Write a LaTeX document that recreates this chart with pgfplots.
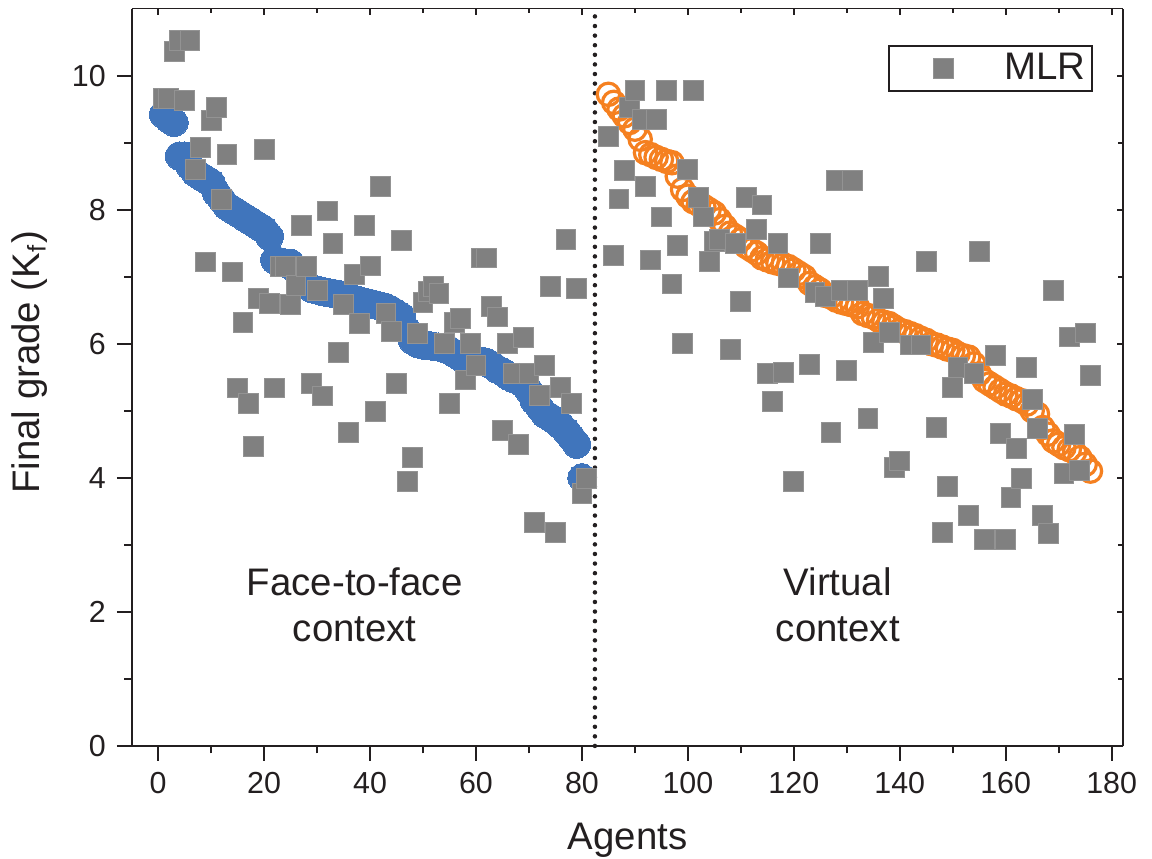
\documentclass[border=0pt]{standalone}
\usepackage{fontspec}
\setmainfont{Liberation Sans}
\usepackage{pgfplots}
\pgfplotsset{compat=1.18}
\definecolor{fblue}{RGB}{64,117,188}
\definecolor{vorange}{RGB}{245,128,32}
\definecolor{mlrgray}{RGB}{128,128,128}
\definecolor{axgray}{RGB}{35,31,32}
\begin{document}
\begin{tikzpicture}
\begin{axis}[name=ax, scale only axis, width=309.9pt, height=230.47pt,
  xmin=-5, xmax=182.2, ymin=0, ymax=11,
  axis x line*=bottom, axis y line*=left,
  axis line style={axgray, line width=0.6pt},
  xtick={0,20,...,180}, ytick={0,2,...,10},
  minor x tick num=1, minor y tick num=1,
  tick align=outside, major tick length=4.6pt, minor tick length=2.3pt,
  tick style={axgray, line width=0.6pt},
  ticklabel style={font=\fontsize{9.5}{11}\selectfont, text=axgray},
  /pgf/number format/assume math mode=true,
  xlabel={Agents}, ylabel={Final grade (K\textsubscript{f})},
  label style={font=\fontsize{12}{14}\selectfont, text=axgray},
  xlabel style={at={(axis description cs:0.5,-0.1276)}, anchor=center},
  ylabel style={at={(axis description cs:-0.1026,0.52)}, anchor=center},
  clip=false,
  legend style={at={(0.763,0.9505)}, anchor=north west, draw=axgray, line width=0.5pt,
    inner xsep=2pt, inner ysep=2.2pt, font=\fontsize{12}{14}\selectfont, text=axgray,
    nodes={inner sep=0pt}},
  legend image code/.code={\path[draw=none,fill=none] (0pt,-4pt) rectangle (34pt,4pt); \draw[#1] plot coordinates {(14.9pt,0pt)};},
]
% Face-to-face context (blue filled circles)
\addplot[only marks, mark=*, mark size=4.4pt, mark options={fill=fblue, draw=fblue, line width=0pt}, forget plot] coordinates {
(1,9.42)(2,9.35)(3,9.30)(4,8.80)(5,8.80)(6,8.65)(7,8.55)(8,8.50)(9,8.45)(10,8.40)
(11,8.25)(12,8.15)(13,8.05)(14,8.00)(15,7.95)(16,7.90)(17,7.85)(18,7.80)(19,7.75)(20,7.70)
(21,7.60)(22,7.25)(23,7.22)(24,7.20)(25,7.20)(26,7.10)(27,7.00)(28,6.88)(29,6.82)(30,6.80)
(31,6.78)(32,6.76)(33,6.75)(34,6.73)(35,6.70)(36,6.68)(37,6.66)(38,6.64)(39,6.62)(40,6.60)
(41,6.58)(42,6.56)(43,6.54)(44,6.50)(45,6.45)(46,6.40)(47,6.20)(48,6.05)(49,6.00)(50,5.98)
(51,5.97)(52,5.96)(53,5.95)(54,5.93)(55,5.90)(56,5.85)(57,5.80)(58,5.78)(59,5.76)(60,5.75)
(61,5.74)(62,5.72)(63,5.68)(64,5.62)(65,5.58)(66,5.52)(67,5.48)(68,5.45)(69,5.40)(70,5.30)
(71,5.15)(72,5.05)(73,4.95)(74,4.90)(75,4.85)(76,4.78)(77,4.70)(78,4.60)(79,4.50)(80,4.00)
};
% Virtual context (orange open circles)
\addplot[only marks, mark=o, mark size=3.5pt, mark options={draw=vorange, fill=white, line width=1pt}, forget plot] coordinates {
(85,9.72)(86,9.60)(87,9.50)(88,9.40)(89,9.30)(90,9.20)(91,9.05)(92,8.85)(93,8.82)(94,8.78)
(95,8.75)(96,8.72)(97,8.70)(98,8.50)(99,8.30)(100,8.20)(101,8.12)(102,8.08)(103,8.05)(104,8.00)
(105,7.95)(106,7.85)(107,7.75)(108,7.65)(109,7.60)(110,7.55)(111,7.45)(112,7.40)(113,7.35)(114,7.28)
(115,7.25)(116,7.22)(117,7.20)(118,7.18)(119,7.15)(120,7.10)(121,7.05)(122,7.00)(123,6.90)(124,6.85)
(125,6.80)(126,6.72)(127,6.70)(128,6.65)(129,6.62)(130,6.60)(131,6.58)(132,6.55)(133,6.45)(134,6.42)
(135,6.40)(136,6.35)(137,6.32)(138,6.30)(139,6.25)(140,6.20)(141,6.18)(142,6.15)(143,6.12)(144,6.08)
(145,6.05)(146,6.00)(147,5.98)(148,5.95)(149,5.92)(150,5.90)(151,5.85)(152,5.82)(153,5.80)(154,5.70)
(155,5.55)(156,5.45)(157,5.40)(158,5.35)(159,5.30)(160,5.25)(161,5.22)(162,5.18)(163,5.15)(164,5.10)
(165,5.00)(166,4.95)(167,4.75)(168,4.65)(169,4.55)(170,4.50)(171,4.45)(172,4.42)(173,4.38)(174,4.30)
(175,4.20)(176,4.10)
};
% MLR (grey squares)
\addplot[only marks, mark=square*, mark size=3.1pt, mark options={fill=mlrgray, draw=mlrgray!85!white, line width=0.3pt}] coordinates {
(1,9.66)(2,9.66)(3,10.36)(4,10.52)(5,9.63)(6,10.52)(7,8.60)(8,8.93)(9,7.22)(10,9.33)
(11,9.52)(12,8.15)(13,8.82)(14,7.07)(15,5.34)(16,6.32)(17,5.11)(18,4.47)(19,6.68)(20,8.90)
(21,6.60)(22,5.34)(23,7.15)(24,7.15)(25,6.58)(26,6.87)(27,7.76)(28,7.15)(29,5.41)(30,6.80)
(31,5.22)(32,7.98)(33,7.49)(34,5.87)(35,6.58)(36,4.68)(37,7.03)(38,6.30)(39,7.76)(40,7.16)
(41,4.99)(42,8.34)(43,6.45)(44,6.18)(45,5.41)(46,7.54)(47,3.95)(48,4.30)(49,6.15)(50,6.62)
(51,6.78)(52,6.85)(53,6.75)(54,6.00)(55,5.11)(56,6.32)(57,6.38)(58,5.46)(59,6.00)(60,5.68)
(61,7.28)(62,7.28)(63,6.55)(64,6.40)(65,4.71)(66,6.00)(67,5.56)(68,4.50)(69,6.09)(70,5.56)
(71,3.33)(72,5.23)(73,5.68)(74,6.85)(75,3.18)(76,5.35)(77,7.55)(78,5.11)(79,6.82)(80,3.77)
(80.8,3.99)
(85,9.09)(86,7.31)(87,8.16)(88,8.59)(89,9.52)(90,9.78)(91.5,9.34)(92,8.34)(93,7.25)(94,9.34)
(95,7.89)(96,9.78)(97,6.89)(98,7.46)(99,6.00)(100,8.60)(101,9.78)(102,8.18)(103,7.89)(104,7.23)
(105,7.52)(106,7.55)(108,5.92)(109,7.50)(110,6.63)(111,8.18)(113,7.71)(114,8.07)(115,5.56)(116,5.14)
(117,7.50)(118,5.57)(119,6.98)(120,3.95)(123,5.69)(124,6.77)(125,7.50)(126,6.70)(127,4.68)(128,8.43)
(129,6.80)(130,5.60)(131,8.43)(132,6.80)(134,4.89)(135,6.02)(136,7.00)(137,6.67)(138,6.17)(139,4.16)
(140,4.25)(142,5.98)(144,5.98)(145,7.23)(147,4.75)(148,3.18)(149,3.87)(150,5.35)(151,5.64)(153,3.44)
(154,5.56)(155,7.37)(156,3.08)(158,5.83)(159,4.66)(160,3.08)(161,3.71)(162,4.44)(163,3.99)(164,5.64)
(165,5.17)(166,4.74)(167,3.44)(168,3.17)(169,6.80)(171,4.07)(172,6.10)(173,4.64)(174,4.11)(175,6.16)
(176,5.52)
};
\addlegendentry{MLR}
% separator
\addplot[axgray, line width=1.4pt, dash pattern=on 0pt off 3pt, line cap=round, forget plot] coordinates {(82.45,0) (82.45,11)};
\node[align=center, font=\fontsize{12}{14.4}\selectfont, text=axgray] at (axis cs:37.1,2.1) {Face-to-face\\context};
\node[align=center, font=\fontsize{12}{14.4}\selectfont, text=axgray] at (axis cs:128.3,2.1) {Virtual\\context};
\end{axis}
\begin{axis}[scale only axis, width=309.9pt, height=230.47pt,
  xmin=-5, xmax=182.2, ymin=0, ymax=11,
  axis x line*=top, axis y line*=right,
  axis line style={axgray, line width=0.6pt},
  xtick={0,20,...,180}, ytick={0,2,...,10},
  minor x tick num=1, minor y tick num=1,
  tick align=inside, major tick length=2pt, minor tick length=1.5pt,
  tick style={axgray, line width=0.6pt},
  xticklabels={}, yticklabels={},
]
\end{axis}
\pgfresetboundingbox
\path[use as bounding box] ([xshift=-41.16pt,yshift=-35.31pt]ax.south west) rectangle ([xshift=8.97pt,yshift=2.66pt]ax.north east);
\end{tikzpicture}
\end{document}
